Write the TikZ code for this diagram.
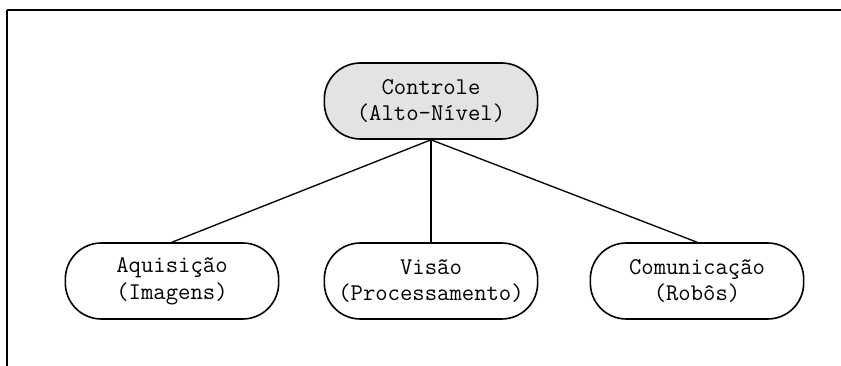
\documentclass[tikz,border=0pt]{standalone}
\begin{document}
\begin{tikzpicture}[x=0.75pt,y=-0.75pt,
  box/.style={draw,line width=1.2pt,rounded corners=27pt,minimum width=160pt,minimum height=57pt,
    align=center,font=\ttfamily\fontsize{18}{20}\selectfont}]
\useasboundingbox (0,0) rectangle (841,366);
\draw[line width=1.2pt] (7,10) -- (841,10);
\draw[line width=0.8pt] (7,10) -- (7,366);
\node[box,fill=gray!22] (ctrl) at (431,101) {Controle\\(Alto-Nível)};
\node[box] (aquis) at (172,281) {Aquisição\\(Imagens)};
\node[box] (visao) at (431,281) {Visão\\(Processamento)};
\node[box] (comun) at (697,281) {Comunicação\\(Robôs)};
\foreach \n in {aquis,visao,comun}
    \draw[line width=1pt] (ctrl.south) -- (\n.north);
\end{tikzpicture}
\end{document}
